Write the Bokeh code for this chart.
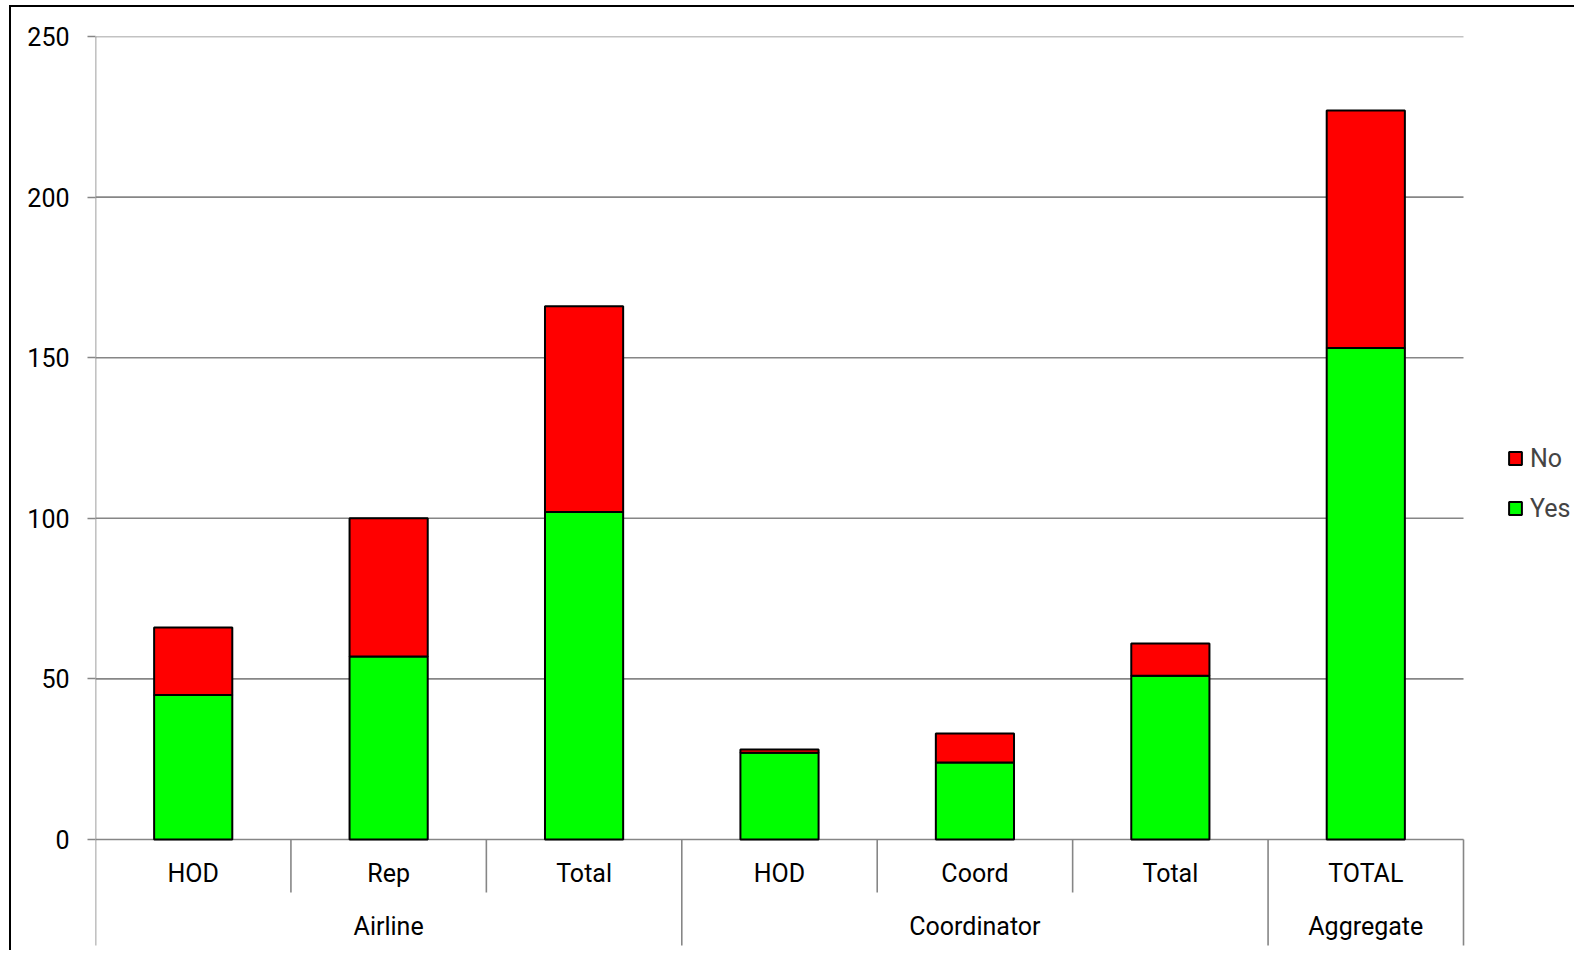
from bokeh.plotting import figure
from bokeh.models import ColumnDataSource, FixedTicker, Legend, LegendItem, Range1d
from bokeh.core.properties import value
from bokeh.embed import file_html
from bokeh.resources import INLINE

# ---- data ----
groups = ["Airline", "Airline", "Airline", "Coordinator", "Coordinator", "Coordinator", "Aggregate"]
subs = ["HOD", "Rep", "Total", "HOD", "Coord", "Total", "TOTAL"]
yes = [45, 57, 102, 27, 24, 51, 153]
no = [21, 43, 64, 1, 9, 10, 74]
y_ticks = [0, 50, 100, 150, 200, 250]

FONT = "Roboto"
FS = "25px"
GRID = "#868686"

n = len(subs)
xs = [i + 0.5 for i in range(n)]          # category slot centres

# layout in px (content origin ~ (11,7))
OX, OY = 11, 7
W, H = 1565, 945
left_px, right_px = 95, 1463               # category area
zero_px, top_px, frame_bottom_px = 839, 36, OY + H
frame_right_px = OX + W
ppu = (zero_px - top_px) / 250.0
y_start = -(frame_bottom_px - zero_px) / ppu
x_end = n * (frame_right_px - left_px) / (right_px - left_px)

p = figure(width=W, height=H, x_range=Range1d(0, x_end), y_range=Range1d(y_start, 250),
           output_backend="svg", toolbar_location=None, x_axis_location=None,
           min_border_left=left_px - OX, min_border_right=0,
           min_border_top=top_px - OY, min_border_bottom=0)
p.outline_line_color = None
p.styles = {"border-left": "2px solid black", "border-top": "2px solid black",
            "margin-left": "9px", "margin-top": "5px"}

# y axis (ticks + labels only)
ax = p.yaxis[0]
ax.ticker = FixedTicker(ticks=y_ticks)
ax.axis_line_color = None
ax.major_tick_line_color = GRID
ax.major_tick_line_width = 1.6
ax.major_tick_out = 8
ax.major_tick_in = 0
ax.minor_tick_line_color = None
ax.major_label_standoff = 18
ax.major_label_text_font = FONT
ax.major_label_text_font_size = FS
ax.major_label_text_color = "black"

for g in p.grid:
    g.visible = False

# horizontal gridlines across the category area only
p.segment(x0=[0] * len(y_ticks), y0=y_ticks, x1=[n] * len(y_ticks), y1=y_ticks,
          line_color=GRID, line_width=1.6)

src = ColumnDataSource(dict(x=xs, Yes=yes, No=no))
rs = p.vbar_stack(["Yes", "No"], x="x", width=0.4, source=src,
                  color=["#00FF00", "#FF0000"], line_color="black", line_width=2)

# category separators and left axis line
sx, sy0, sy1 = [], [], []
for i in range(n + 1):
    long_sep = i == 0 or i == n or groups[i] != groups[i - 1]
    bottom = -(945 - zero_px) / ppu if long_sep else -(892 - zero_px) / ppu
    top = 250 if i == 0 else 0
    sx.append(i)
    sy0.append(top)
    sy1.append(bottom)
p.segment(x0=sx, y0=sy0, x1=sx, y1=sy1, line_color=GRID, line_width=1.6)

# category labels
row1 = -(873 - zero_px) / ppu
row2 = -(926 - zero_px) / ppu
p.text(x=xs, y=[row1] * n, text=subs, text_align="center", text_baseline="middle",
       text_font=value(FONT), text_font_size=value(FS), text_color="black")
ug, gx = [], []
for g in groups:
    if g not in ug:
        ug.append(g)
        members = [xs[i] for i in range(n) if groups[i] == g]
        gx.append(sum(members) / len(members))
p.text(x=gx, y=[row2] * len(ug), text=ug, text_align="center", text_baseline="middle",
       text_font=value(FONT), text_font_size=value(FS), text_color="black")

legend = Legend(items=[LegendItem(label="No", renderers=[rs[1]]),
                       LegendItem(label="Yes", renderers=[rs[0]])],
                location=(1507 - left_px, frame_bottom_px - 523), padding=0, margin=0,
                border_line_color=None, background_fill_alpha=0,
                glyph_width=16, glyph_height=16, label_height=30,
                label_standoff=7, spacing=20,
                label_text_font=FONT, label_text_font_size=FS)
p.add_layout(legend)

open("out.html", "w").write(file_html(p, INLINE))
